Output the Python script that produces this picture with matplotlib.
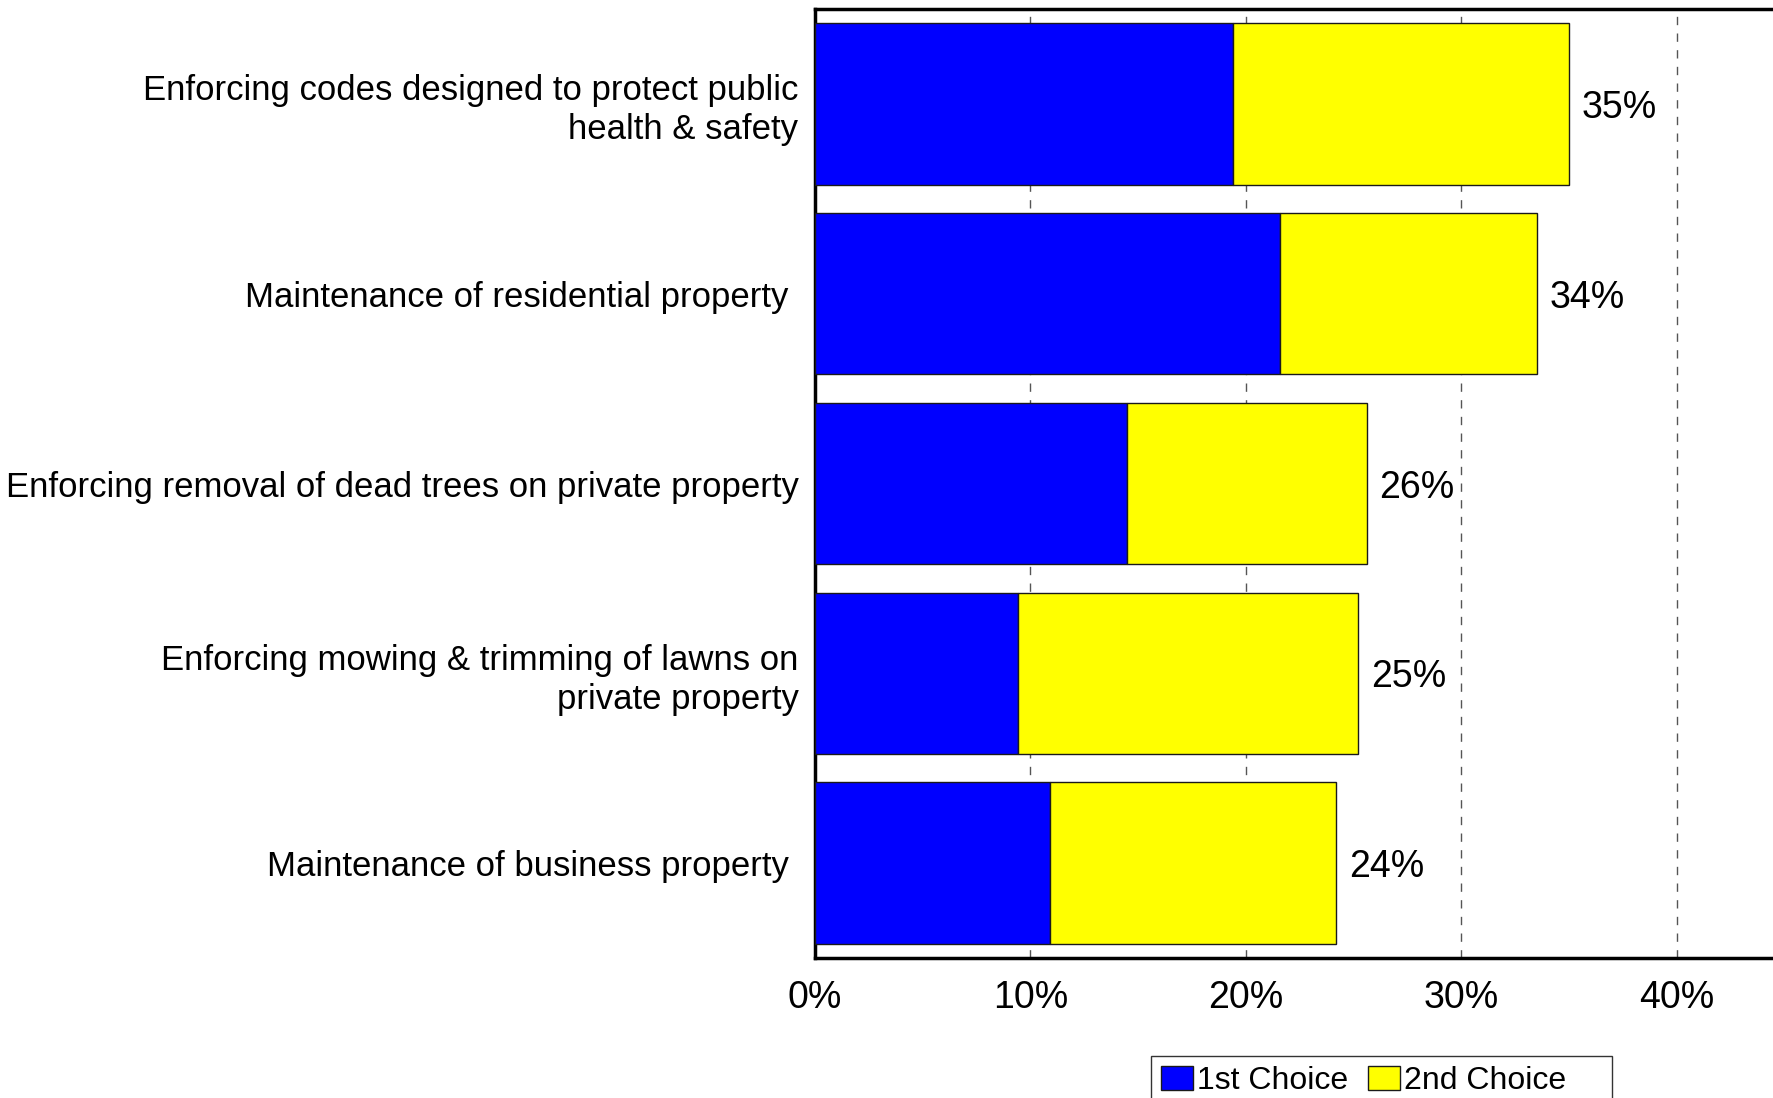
import matplotlib.pyplot as plt
import numpy as np

plt.rcParams['font.family'] = ['Liberation Sans', 'DejaVu Sans']

categories = [
    "Enforcing codes designed to protect public\nhealth & safety",
    "Maintenance of residential property ",
    "Enforcing removal of dead trees on private property",
    "Enforcing mowing & trimming of lawns on\nprivate property",
    "Maintenance of business property ",
]
first_choice = [19.4, 21.6, 14.5, 9.4, 10.9]
second_choice = [15.6, 11.9, 11.1, 15.8, 13.3]
x_ticks = [0, 10, 20, 30, 40]

first = np.array(first_choice)
second = np.array(second_choice)
total = first + second
y = np.arange(len(categories))

fig = plt.figure(figsize=(17.73, 10.98), dpi=100)
ax = fig.add_axes([0.4597, 0.1275, 0.5403, 0.8643])

b1 = ax.barh(y, first, height=0.85, color='#0000ff', edgecolor='#1a1a1a', linewidth=1, label='1st Choice', zorder=3)
b2 = ax.barh(y, second, left=first, height=0.85, color='#ffff00', edgecolor='#1a1a1a', linewidth=1, label='2nd Choice    ', zorder=3)

# total percentage to the right of each stacked bar
for yi, t in zip(y, total):
    ax.text(t + 0.6, yi, f"{int(round(t))}%", va='center_baseline', ha='left', fontsize=27)

ax.set_ylim(len(categories) - 0.5, -0.5)
ax.set_xlim(0, 44.47)
ax.set_yticks(y)
ax.set_yticklabels(categories, fontsize=25, linespacing=1.22)
ax.set_xticks(x_ticks)
ax.set_xticklabels([f"{v}%" for v in x_ticks], fontsize=27)
ax.tick_params(axis='both', length=0)
ax.tick_params(axis='y', pad=12)
ax.tick_params(axis='x', pad=16)

ax.xaxis.grid(True, linestyle=(0, (6, 6)), color='#555555', linewidth=1, zorder=0)
ax.set_axisbelow(True)
ax.spines['right'].set_visible(False)
for s in ['left', 'top', 'bottom']:
    ax.spines[s].set_linewidth(2.5)
    ax.spines[s].set_color('black')

fig.legend(handles=[b1, b2], loc='upper left', bbox_to_anchor=(1151 / 1773, 1 - 1056 / 1098),
           ncol=2, fontsize=23, frameon=True, fancybox=False, edgecolor='black',
           handlelength=1.0, handleheight=0.8, handletextpad=0.15, columnspacing=0.6,
           borderpad=0.3, borderaxespad=0)

fig.savefig('out.png', dpi=100)
